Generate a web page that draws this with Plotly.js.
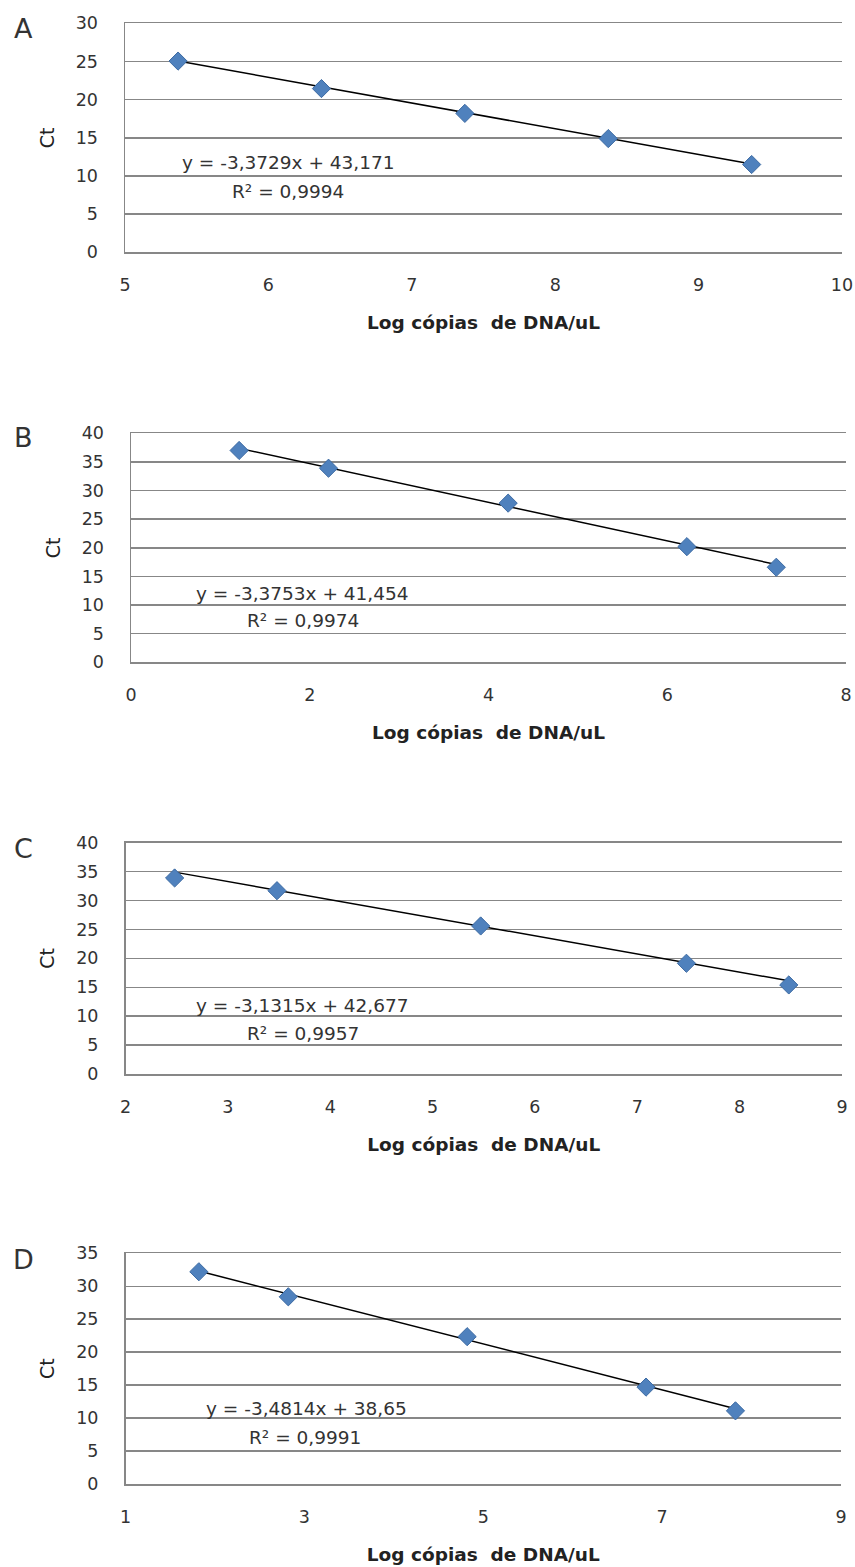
<!DOCTYPE html>
<html>
<head>
<meta charset="utf-8">
<script src="https://cdn.plot.ly/plotly-3.0.1.min.js"></script>
<style>html,body{margin:0;padding:0;background:#fff;}#chart{width:855px;height:1567px;}</style>
</head>
<body>
<div id="chart"></div>
<script>
// ---- data ----
const panelLabels = ["A", "B", "C", "D"];
const xA = [5.37, 6.37, 7.37, 8.37, 9.37];
const yA = [25.05, 21.45, 18.2, 14.9, 11.5];
const xB = [1.21, 2.21, 4.22, 6.22, 7.22];
const yB = [37.0, 33.9, 27.8, 20.2, 16.6];
const xC = [2.48, 3.48, 5.47, 7.48, 8.48];
const yC = [33.9, 31.7, 25.6, 19.15, 15.4];
const xD = [1.82, 2.82, 4.82, 6.82, 7.82];
const yD = [32.2, 28.4, 22.35, 14.7, 11.1];
const slopes = [-3.3729, -3.3753, -3.1315, -3.4814];
const intercepts = [43.171, 41.454, 42.677, 38.65];
const eqTexts = ["y = -3,3729x + 43,171", "y = -3,3753x + 41,454", "y = -3,1315x + 42,677", "y = -3,4814x + 38,65"];
const r2Texts = ["R² = 0,9994", "R² = 0,9974", "R² = 0,9957", "R² = 0,9991"];
const xRanges = [[5, 10], [0, 8], [2, 9], [1, 9]];
const xDticks = [1, 2, 1, 2];
const yRanges = [[0, 30], [0, 40], [0, 40], [0, 35]];
const xTitle = "Log cópias  de DNA/uL";
const yTitle = "Ct";

// ---- layout geometry (pixels) ----
const W = 855, H = 1567;
const px = v => v / W;
const py = v => 1 - v / H;
const boxes = [
  {l: 125, r: 842, t: 23.3, b: 252.3},
  {l: 131, r: 846, t: 433.3, b: 662.3},
  {l: 125.5, r: 842, t: 842.7, b: 1074},
  {l: 125.5, r: 841, t: 1253.3, b: 1484}
];
const letterPos = [[23, 28], [23, 438], [23, 848], [23, 1259]];
const eqPos = [[288, 162], [302, 593], [302, 1005], [306, 1408]];
const r2Pos = [[288, 191], [303, 620], [303, 1033], [305, 1437]];

const xs = [xA, xB, xC, xD];
const ys = [yA, yB, yC, yD];

const FONT = "DejaVu Sans, Liberation Sans, sans-serif";
const GRID = "#878787";

const traces = [];
const layout = {
  width: W, height: H,
  margin: {l: 0, r: 0, t: 0, b: 0},
  paper_bgcolor: "#ffffff",
  plot_bgcolor: "#ffffff",
  showlegend: false,
  font: {family: FONT, color: "#333333"},
  annotations: []
};

for (let i = 0; i < 4; i++) {
  const sfx = i === 0 ? "" : String(i + 1);
  const xa = "x" + sfx, ya = "y" + sfx;
  const bx = boxes[i];
  // trendline from the fitted equation over the data range
  const x0 = Math.min(...xs[i]), x1 = Math.max(...xs[i]);
  traces.push({
    x: [x0, x1],
    y: [slopes[i] * x0 + intercepts[i], slopes[i] * x1 + intercepts[i]],
    xaxis: xa, yaxis: ya,
    mode: "lines",
    line: {color: "#000000", width: 1.5},
    hoverinfo: "skip"
  });
  traces.push({
    x: xs[i], y: ys[i],
    xaxis: xa, yaxis: ya,
    mode: "markers",
    marker: {symbol: "diamond", size: 14, color: "#4F81BD", line: {color: "#3D6BA3", width: 1}}
  });
  layout["xaxis" + sfx] = {
    domain: [px(bx.l), px(bx.r)],
    anchor: ya,
    range: xRanges[i],
    dtick: xDticks[i],
    tick0: xRanges[i][0],
    showgrid: false,
    zeroline: false,
    showline: true,
    mirror: true,
    linecolor: GRID,
    linewidth: 1.5,
    ticks: "outside",
    ticklen: 16,
    tickcolor: "rgba(0,0,0,0)",
    tickfont: {family: FONT, size: 17.5, color: "#333333"},
    title: {text: xTitle, standoff: 22, font: {family: FONT, size: 18.5, color: "#222222", weight: "bold"}},
    automargin: false,
    fixedrange: true
  };
  layout["yaxis" + sfx] = {
    domain: [py(bx.b), py(bx.t)],
    anchor: xa,
    range: yRanges[i],
    dtick: 5,
    showgrid: true,
    gridcolor: GRID,
    gridwidth: 1.5,
    zeroline: false,
    showline: true,
    linecolor: GRID,
    linewidth: 1.5,
    ticks: "outside",
    ticklen: 22,
    tickcolor: "rgba(0,0,0,0)",
    tickfont: {family: FONT, size: 17.5, color: "#333333"},
    title: {text: yTitle, standoff: 16, font: {family: FONT, size: 19, color: "#222222"}},
    automargin: false,
    fixedrange: true
  };
  layout.annotations.push({
    xref: "paper", yref: "paper",
    x: px(letterPos[i][0]), y: py(letterPos[i][1]),
    xanchor: "center", yanchor: "middle",
    text: panelLabels[i], showarrow: false,
    font: {family: FONT, size: 27, color: "#333333"}
  });
  layout.annotations.push({
    xref: "paper", yref: "paper",
    x: px(eqPos[i][0]), y: py(eqPos[i][1]),
    xanchor: "center", yanchor: "middle",
    text: eqTexts[i], showarrow: false,
    font: {family: FONT, size: 18.5, color: "#333333"}
  });
  layout.annotations.push({
    xref: "paper", yref: "paper",
    x: px(r2Pos[i][0]), y: py(r2Pos[i][1]),
    xanchor: "center", yanchor: "middle",
    text: r2Texts[i], showarrow: false,
    font: {family: FONT, size: 18.5, color: "#333333"}
  });
}

Plotly.newPlot("chart", traces, layout, {staticPlot: true, displayModeBar: false});
</script>
</body>
</html>
